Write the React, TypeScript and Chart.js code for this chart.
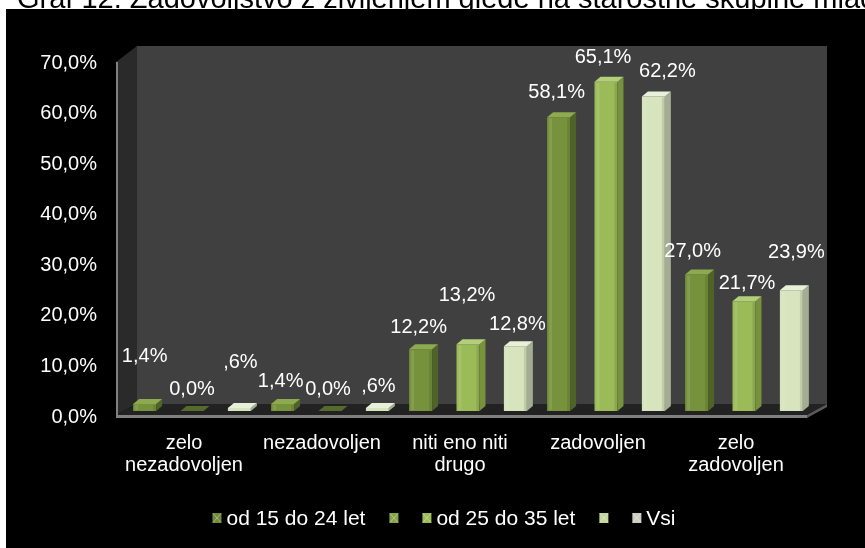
import React, { useEffect, useRef } from 'react';
import { Chart, registerables } from 'chart.js';

Chart.register(...registerables);

// ---------- data ----------
const titleText = 'Graf 12: Zadovoljstvo z življenjem glede na starostne skupine mladih';
const categories: (string | string[])[] = [
  ['zelo', 'nezadovoljen'],
  'nezadovoljen',
  ['niti eno niti', 'drugo'],
  'zadovoljen',
  ['zelo', 'zadovoljen'],
];
const seriesNames = ['od 15 do 24 let', 'od 25 do 35 let', 'Vsi'];
const youngValues = [1.4, 1.4, 12.2, 58.1, 27.0];
const olderValues = [0.0, 0.0, 13.2, 65.1, 21.7];
const allValues = [0.6, 0.6, 12.8, 62.2, 23.9];
const yTicks = [0, 10, 20, 30, 40, 50, 60, 70];
const legendEntries = ['od 15 do 24 let', '', 'od 25 do 35 let', '', 'Vsi'];

// ---------- style ----------
const FONT = '"Liberation Sans", Arial, sans-serif';
const frontColors = ['#76923C', '#9BBB59', '#D7E4BD'];
const sideColors = ['#4F6228', '#76923C', '#A4AC93'];
const topColors = ['#8DAA4E', '#B3CF7A', '#E9F0DA'];
const flatColors = ['#7C9A40', '#556B2C', '#C9D6B0'];
const legendColors = ['#6F8A38', '#86A448', '#9BBB59', '#C3D69B', '#C9CFC0'];
// label nudges relative to bar top (dx, dy of label centre)
const labelDx = [
  [0, -2, -2, -2, -4],
  [0, -2, -1, -3, 3],
  [1, 1, 2, 14, 5],
];
const labelDy = [
  [-47, -22, -22, -25, -23],
  [-22, -22, -49, -24, -18],
  [-45, -21, -22, -25, -38],
];
const DEPTH_X = 6;
const DEPTH_Y = 5;

function fmtValue(v: number): string {
  if (v === 0) return '0,0%';
  let s = v.toFixed(1).replace('.', ',');
  if (v < 1) s = s.replace(/^0/, '');
  return s + '%';
}

const backgroundPlugin = {
  id: 'bgPlugin',
  beforeDraw(chart: any) {
    const { ctx } = chart;
    const ca = chart.chartArea;
    ctx.save();
    ctx.fillStyle = '#ffffff';
    ctx.fillRect(0, 0, chart.width, chart.height);
    ctx.fillStyle = '#000000';
    ctx.font = `29px ${FONT}`;
    ctx.textAlign = 'left';
    ctx.textBaseline = 'alphabetic';
    ctx.fillText(titleText, 17, 8);
    ctx.fillStyle = '#000000';
    ctx.fillRect(6, 9, chart.width - 6, chart.height - 9);

    // 3D plot box derived from chart area
    const backL = ca.left + 14;
    const backR = ca.right + 14;
    const backT = ca.top - 11;
    const floorBack = ca.bottom - 7;
    const frontL = ca.left - 7;
    const frontR = ca.right - 6;
    const frontY = ca.bottom + 4;
    const leftTop = ca.top + 5;

    // back wall
    ctx.fillStyle = '#404040';
    ctx.fillRect(backL, backT, backR - backL, floorBack - backT);
    // left wall
    ctx.fillStyle = '#2A2A2A';
    ctx.beginPath();
    ctx.moveTo(frontL, leftTop);
    ctx.lineTo(backL, backT);
    ctx.lineTo(backL, floorBack);
    ctx.lineTo(frontL, frontY);
    ctx.closePath();
    ctx.fill();
    // floor
    ctx.fillStyle = '#222222';
    ctx.beginPath();
    ctx.moveTo(backL, floorBack);
    ctx.lineTo(backR, floorBack);
    ctx.lineTo(frontR, frontY);
    ctx.lineTo(frontL, frontY);
    ctx.closePath();
    ctx.fill();
    // floor front edge
    ctx.fillStyle = '#808080';
    ctx.fillRect(frontL, frontY, frontR - frontL, 3);
    ctx.fillStyle = '#5A5A5A';
    ctx.beginPath();
    ctx.moveTo(frontR, frontY);
    ctx.lineTo(backR, floorBack);
    ctx.lineTo(backR, floorBack + 3);
    ctx.lineTo(frontR, frontY + 3);
    ctx.closePath();
    ctx.fill();
    // left wall front edge
    ctx.fillStyle = '#808080';
    ctx.fillRect(frontL, leftTop, 2, frontY + 3 - leftTop);
    ctx.restore();
  },
};

const bar3dPlugin = {
  id: 'bar3d',
  afterDatasetsDraw(chart: any) {
    const { ctx } = chart;
    ctx.save();
    chart.data.datasets.forEach((ds: any, di: number) => {
      const meta = chart.getDatasetMeta(di);
      meta.data.forEach((el: any) => {
        const { x, y, base, width } = el.getProps(['x', 'y', 'base', 'width'], true);
        const l = x - width / 2;
        const r = x + width / 2;
        const flat = base - y < 1;
        // side face
        ctx.fillStyle = sideColors[di];
        ctx.beginPath();
        ctx.moveTo(r, y);
        ctx.lineTo(r + DEPTH_X, y - DEPTH_Y);
        ctx.lineTo(r + DEPTH_X, base - DEPTH_Y);
        ctx.lineTo(r, base);
        ctx.closePath();
        ctx.fill();
        // top face
        ctx.fillStyle = flat ? flatColors[di] : topColors[di];
        ctx.beginPath();
        ctx.moveTo(l, y);
        ctx.lineTo(r, y);
        ctx.lineTo(r + DEPTH_X, y - DEPTH_Y);
        ctx.lineTo(l + DEPTH_X, y - DEPTH_Y);
        ctx.closePath();
        ctx.fill();
        // subtle highlight on front face
        if (base - y > 4) {
          ctx.fillStyle = 'rgba(255,255,255,0.10)';
          ctx.fillRect(l + 2, y + 1, 3, base - y - 2);
          ctx.fillStyle = 'rgba(0,0,0,0.10)';
          ctx.fillRect(r - 3, y + 1, 3, base - y - 1);
        }
      });
    });
    ctx.restore();
  },
};

const labelsPlugin = {
  id: 'valueLabels',
  afterDraw(chart: any) {
    const { ctx } = chart;
    ctx.save();
    ctx.font = `20px ${FONT}`;
    ctx.fillStyle = '#FFFFFF';
    ctx.textAlign = 'center';
    ctx.textBaseline = 'middle';
    chart.data.datasets.forEach((ds: any, di: number) => {
      const meta = chart.getDatasetMeta(di);
      meta.data.forEach((el: any, i: number) => {
        const { x, y } = el.getProps(['x', 'y'], true);
        ctx.fillText(fmtValue(ds.data[i]), x + labelDx[di][i], y + labelDy[di][i]);
      });
    });

    // legend
    ctx.font = `21px ${FONT}`;
    ctx.textAlign = 'left';
    const box = 9;
    const gap = 5;
    const spacing = 24;
    const widths = legendEntries.map((t) => box + (t ? gap + ctx.measureText(t).width : 0));
    const total = widths.reduce((a, b) => a + b, 0) + spacing * (widths.length - 1);
    const cy = 518;
    let x = 444 - total / 2;
    legendEntries.forEach((t, i) => {
      const c = legendColors[i];
      ctx.fillStyle = c;
      ctx.fillRect(x, cy - 5, box, box + 1);
      ctx.strokeStyle = 'rgba(255,255,255,0.35)';
      ctx.lineWidth = 1;
      ctx.beginPath();
      ctx.moveTo(x + 0.5, cy - 4.5);
      ctx.lineTo(x + box - 0.5, cy + 4.5);
      ctx.moveTo(x + box - 0.5, cy - 4.5);
      ctx.lineTo(x + 0.5, cy + 4.5);
      ctx.stroke();
      if (t) {
        ctx.fillStyle = '#FFFFFF';
        ctx.textBaseline = 'middle';
        ctx.fillText(t, x + box + gap, cy + 1);
      }
      x += widths[i] + spacing;
    });
    ctx.restore();
  },
};

export default function App() {
  const canvasRef = useRef<HTMLCanvasElement | null>(null);

  useEffect(() => {
    if (!canvasRef.current) return;
    const chart = new Chart(canvasRef.current, {
      type: 'bar',
      data: {
        labels: categories,
        datasets: [youngValues, olderValues, allValues].map((vals, i) => ({
          label: seriesNames[i],
          data: vals,
          backgroundColor: frontColors[i],
          borderWidth: 0,
          categoryPercentage: 1.03,
          barPercentage: 0.485,
        })),
      },
      options: {
        animation: false,
        responsive: false,
        devicePixelRatio: 1,
        layout: { padding: { left: 0, right: 52, top: 57, bottom: 0 } },
        plugins: {
          legend: { display: false },
          tooltip: { enabled: false },
          title: { display: false },
        },
        scales: {
          x: {
            grid: { display: false, drawTicks: false },
            border: { display: false },
            ticks: {
              color: '#FFFFFF',
              font: { family: FONT, size: 20, lineHeight: 1.1 },
              padding: 21,
              labelOffset: -8,
              maxRotation: 0,
              autoSkip: false,
            },
            afterFit: (s: any) => {
              s.height = 137;
            },
          },
          y: {
            min: 0,
            max: 70,
            grid: { display: false, drawTicks: false },
            border: { display: false },
            afterBuildTicks: (s: any) => {
              s.ticks = yTicks.map((v) => ({ value: v }));
            },
            ticks: {
              color: '#FFFFFF',
              font: { family: FONT, size: 20 },
              padding: 26,
              labelOffset: 6,
              callback: (v: any) => Number(v).toFixed(1).replace('.', ',') + '%',
            },
            afterFit: (s: any) => {
              s.width = 123;
            },
          },
        },
      },
      plugins: [backgroundPlugin, bar3dPlugin, labelsPlugin],
    });
    return () => chart.destroy();
  }, []);

  return (
    <div style={{ position: 'absolute', left: 0, top: 0, width: 865, height: 548 }}>
      <canvas ref={canvasRef} width={865} height={548} style={{ display: 'block' }} />
    </div>
  );
}
